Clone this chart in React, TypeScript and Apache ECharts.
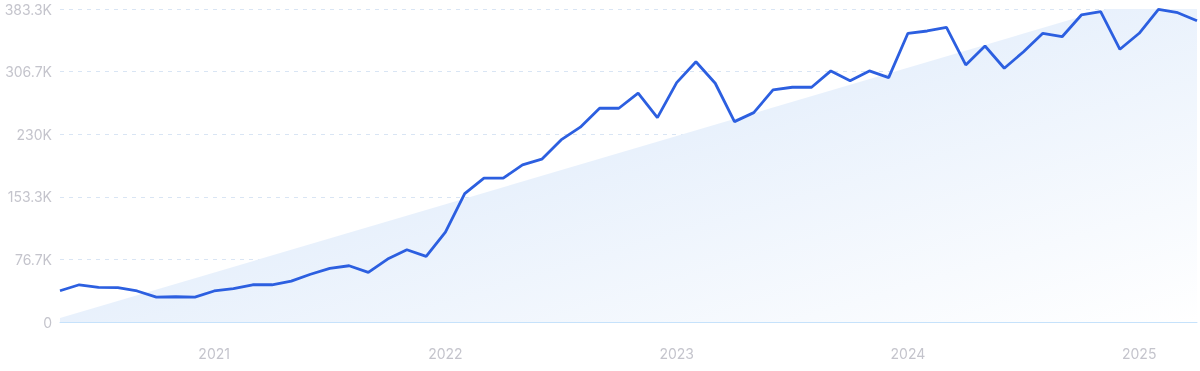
import React, { useEffect, useRef } from "react";
import * as echarts from "echarts";

const months: string[] = [];
for (let y = 2020; y <= 2025; y++) {
  for (let m = 1; m <= 12; m++) {
    const key = `${y}-${String(m).padStart(2, "0")}`;
    if (key >= "2020-05" && key <= "2025-04") months.push(key);
  }
}

const values = [
  38300, 45600, 42300, 42000, 38000, 30500, 30900, 30500,
  38000, 41000, 45600, 45600, 50000, 58500, 65600, 68900,
  60700, 77100, 88500, 80300, 110000, 157300, 176200, 176200,
  192500, 199400, 223000, 238600, 261800, 261800, 280200, 250300,
  293200, 318800, 292400, 245400, 256400, 284200, 287500, 287500,
  307500, 295600, 307500, 299300, 353600, 356400, 360900, 314800,
  338000, 310800, 331000, 353600, 349400, 376000, 380000, 334000,
  353600, 383000, 378800, 369000,
];

const trendStart = 4900;
const trendEnd = 416000;
const yMax = 383333;

export default function App() {
  const ref = useRef<HTMLDivElement>(null);
  useEffect(() => {
    if (!ref.current) return;
    const chart = echarts.init(ref.current, undefined, { renderer: "svg" });
    chart.setOption({
      animation: false,
      grid: { left: 60, right: 3, top: 9, bottom: 49 },
      xAxis: {
        type: "category",
        data: months,
        boundaryGap: false,
        axisLine: { show: true, lineStyle: { color: "#c6e2fb", width: 1 } },
        axisTick: { show: false },
        splitLine: { show: false },
        axisLabel: {
          interval: (idx: number, val: string) => val.endsWith("-01"),
          formatter: (val: string) => val.slice(0, 4),
          color: "#c4c4cc",
          fontSize: 14,
          fontFamily: "Inter",
          margin: 24,
        },
      },
      yAxis: {
        type: "value",
        min: 0,
        max: yMax,
        interval: yMax / 5,
        axisLine: { show: false },
        axisTick: { show: false },
        splitLine: {
          show: true,
          lineStyle: { color: "#d9e5f4", type: [4, 5], width: 1 },
        },
        axisLabel: {
          color: "#c4c4cc",
          fontSize: 14,
          fontFamily: "Inter",
          margin: 8,
          formatter: (v: number) => {
            if (v === 0) return "0";
            const k = Math.round(v / 100) / 10;
            return `${Number.isInteger(k) ? k.toFixed(0) : k.toFixed(1)}K`;
          },
        },
      },
      series: [
        {
          type: "line",
          data: [
            [months[0], trendStart],
            [months[months.length - 1], trendEnd],
          ],
          symbol: "none",
          lineStyle: { width: 0, opacity: 0 },
          areaStyle: {
            opacity: 1,
            color: new echarts.graphic.LinearGradient(0, 0, 1, 1, [
              { offset: 0, color: "#d2e3f9" },
              { offset: 1, color: "#ffffff" },
            ]),
          },
          silent: true,
          z: 1,
        },
        {
          type: "line",
          data: values,
          symbol: "none",
          lineStyle: { color: "#2c5fe0", width: 2.8 },
          z: 3,
        },
      ],
    });
    return () => chart.dispose();
  }, []);
  return (
    <div
      ref={ref}
      style={{ position: "fixed", left: 0, top: 0, width: 1200, height: 371 }}
    />
  );
}
